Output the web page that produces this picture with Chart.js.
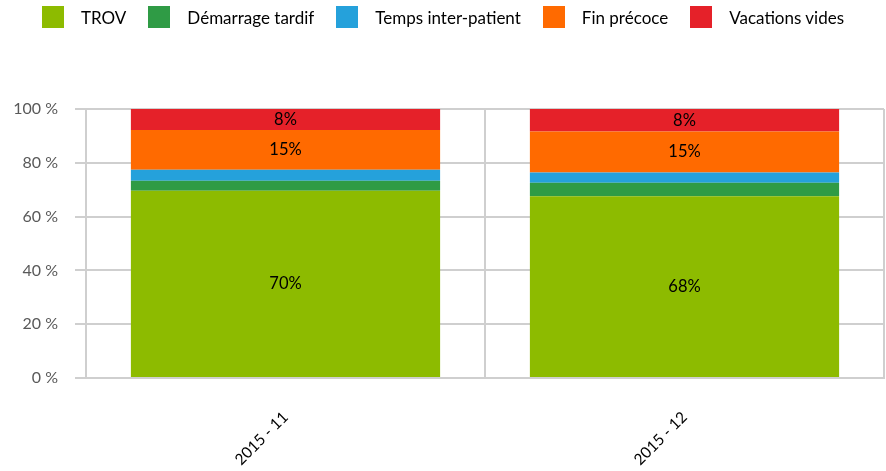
<!DOCTYPE html>
<html>
<head>
<meta charset="utf-8">
<script src="https://cdn.jsdelivr.net/npm/chart.js@4.4.0/dist/chart.umd.min.js"></script>
<style>
  body { margin: 0; background: #fff; font-family: Lato, sans-serif; }
  #wrap { position: relative; width: 886px; height: 471px; }
  #legend { position: absolute; top: 6px; left: 0; width: 886px; display: flex; justify-content: center; font-size: 17px; color: #000; }
  #legend .item { display: flex; align-items: center; margin: 0 11px; }
  #legend .box { width: 22px; height: 22px; margin-right: 17px; }
</style>
</head>
<body>
<div id="wrap">
  <div id="legend"></div>
  <canvas id="chart" width="886" height="471"></canvas>
</div>
<script>
// categories
const months = ['2015 - 11', '2015 - 12'];

// series (% of vacation time)
const trov       = [69.6, 67.6];
const demarrage  = [3.7, 5.0];
const interPat   = [4.1, 3.8];
const finPrecoce = [14.8, 15.2];
const vacVides   = [7.8, 8.4];

const seriesNames  = ['TROV', 'Démarrage tardif', 'Temps inter-patient', 'Fin précoce', 'Vacations vides'];
const seriesColors = ['#8DBB00', '#2F9B45', '#25A1DB', '#FF6A00', '#E52129'];
const labelled     = ['TROV', 'Fin précoce', 'Vacations vides'];

const yTicks = [0, 20, 40, 60, 80, 100];

const allSeries = [trov, demarrage, interPat, finPrecoce, vacVides];

// html legend
const legend = document.getElementById('legend');
seriesNames.forEach((name, i) => {
  const it = document.createElement('div');
  it.className = 'item';
  it.innerHTML = '<div class="box" style="background:' + seriesColors[i] + '"></div><span>' + name + '</span>';
  legend.appendChild(it);
});

const barLabels = {
  id: 'barLabels',
  afterDatasetsDraw(chart) {
    const ctx = chart.ctx;
    ctx.save();
    ctx.font = '16.5px Lato';
    ctx.fillStyle = '#000';
    ctx.textAlign = 'center';
    ctx.textBaseline = 'middle';
    chart.data.datasets.forEach((ds, di) => {
      if (!labelled.includes(ds.label)) return;
      chart.getDatasetMeta(di).data.forEach((bar, i) => {
        ctx.fillText(Math.round(ds.data[i]) + '%', bar.x, (bar.y + bar.base) / 2);
      });
    });
    ctx.restore();
  }
};

new Chart(document.getElementById('chart'), {
  type: 'bar',
  data: {
    labels: months,
    datasets: allSeries.map((d, i) => ({
      label: seriesNames[i],
      data: d,
      backgroundColor: seriesColors[i],
      barPercentage: 0.775,
      categoryPercentage: 1
    }))
  },
  options: {
    responsive: false,
    animation: false,
    layout: { padding: { top: 109, right: 2, left: 0, bottom: 0 } },
    plugins: {
      legend: { display: false },
      tooltip: { enabled: false }
    },
    scales: {
      x: {
        stacked: true,
        afterFit(axis) { axis.height = 93; },
        grid: { color: '#cfcfcf', lineWidth: 2, drawTicks: false },
        border: { color: '#cfcfcf', width: 2 },
        ticks: { color: '#000', font: { family: 'Lato', size: 15.5 }, minRotation: 45, maxRotation: 45, padding: 30 }
      },
      y: {
        stacked: true,
        min: 0,
        max: 100,
        afterBuildTicks(axis) { axis.ticks = yTicks.map(v => ({ value: v })); },
        afterFit(axis) { axis.width = 86; },
        grid: { color: '#cfcfcf', lineWidth: 2, tickLength: 11 },
        border: { color: '#cfcfcf', width: 2 },
        ticks: { color: '#595959', font: { family: 'Lato', size: 16 }, padding: 17, callback: v => v + ' %' }
      }
    }
  },
  plugins: [barLabels]
});
</script>
</body>
</html>
